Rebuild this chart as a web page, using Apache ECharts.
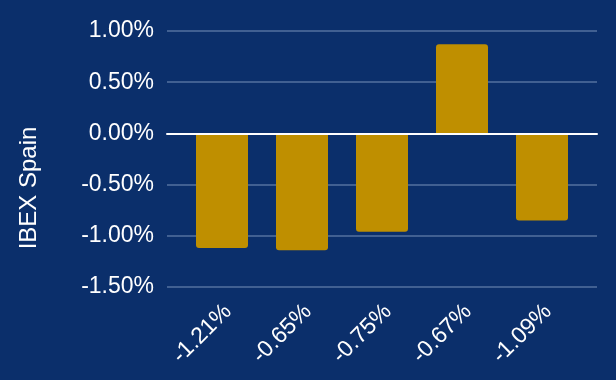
<!DOCTYPE html>
<html>
<head>
<meta charset="utf-8">
<script src="https://cdn.jsdelivr.net/npm/echarts@6/dist/echarts.min.js"></script>
<style>
html,body{margin:0;padding:0;background:#0B2F6B;}
#chart{width:616px;height:380px;}
</style>
</head>
<body>
<div id="chart"></div>
<script>
var categories = ['-1.21%', '-0.65%', '-0.75%', '-0.67%', '-1.09%'];
var values = [-1.12, -1.14, -0.96, 0.87, -0.85];
var yTicks = [-1.5, -1.0, -0.5, 0.0, 0.5, 1.0];
var yAxisName = 'IBEX Spain';

var FONT = 'Arial, "Liberation Sans", sans-serif';
var chart = echarts.init(document.getElementById('chart'));
var barData = values.map(function (v) {
  return {
    value: v,
    itemStyle: { borderRadius: v >= 0 ? [3, 3, 0, 0] : [0, 0, 3, 3] }
  };
});
var yMin = yTicks[0], yMax = yTicks[yTicks.length - 1];
chart.setOption({
  backgroundColor: '#0B2F6B',
  animation: false,
  textStyle: { fontFamily: FONT },
  grid: [
    { left: 167, right: 19, top: 31, bottom: 93 },
    { left: 182, right: 34, top: 31, bottom: 93 },
    { left: 188, right: 28, top: 31, bottom: 93 }
  ],
  xAxis: [
    {
      gridIndex: 0, type: 'category', data: [''],
      axisLine: { show: true, onZero: true, lineStyle: { color: '#FFFFFF', width: 2 } },
      axisTick: { show: false }, axisLabel: { show: false }, z: 5
    },
    {
      gridIndex: 1, type: 'category', data: categories,
      axisLine: { show: false }, axisTick: { show: false }, axisLabel: { show: false }
    },
    {
      gridIndex: 2, type: 'category', data: categories,
      axisLine: { show: false }, axisTick: { show: false },
      axisLabel: { rotate: 45, color: '#FFFFFF', fontSize: 23, fontFamily: FONT, margin: 21 }
    }
  ],
  yAxis: [
    {
      gridIndex: 0, type: 'value', min: yMin, max: yMax, interval: 0.5,
      axisLine: { show: false }, axisTick: { show: false },
      axisLabel: {
        color: '#FFFFFF', fontSize: 23, fontFamily: FONT, margin: 13,
        formatter: function (v) { return v.toFixed(2) + '%'; }
      },
      splitLine: { show: true, lineStyle: { color: '#55729F', width: 1.5 } }
    },
    {
      gridIndex: 1, type: 'value', min: yMin, max: yMax, interval: 0.5,
      show: false, splitLine: { show: false }
    },
    {
      gridIndex: 2, type: 'value', min: yMin, max: yMax, interval: 0.5,
      show: false, splitLine: { show: false }
    }
  ],
  graphic: [{
    type: 'text', x: 29, y: 188, rotation: Math.PI / 2,
    style: { text: yAxisName, fill: '#FFFFFF', font: '24px ' + FONT, textAlign: 'center', textVerticalAlign: 'middle' }
  }],
  series: [{
    type: 'bar', xAxisIndex: 1, yAxisIndex: 1, data: barData, barWidth: 52,
    itemStyle: { color: '#BF8F00' }, z: 3
  }]
});
</script>
</body>
</html>
